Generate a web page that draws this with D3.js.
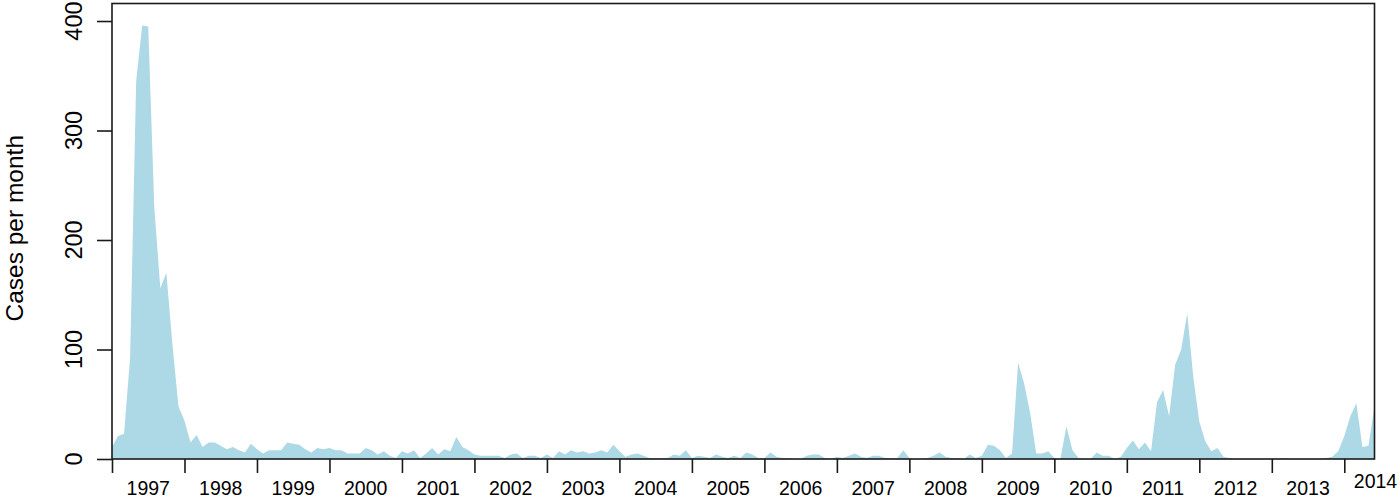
<!DOCTYPE html>
<html>
<head>
<meta charset="utf-8">
<script src="https://cdn.jsdelivr.net/npm/d3@7"></script>
<style>
  html, body { margin: 0; padding: 0; background: #fff; }
  svg { display: block; font-family: "Liberation Sans", Arial, Helvetica, sans-serif; }
</style>
</head>
<body>
<div id="chart"></div>
<script>
// ------------------------------------------------------
// DATA
// ------------------------------------------------------

var startYear = 1997;

// monthly cases, Jan 1997 .. Jun 2014 (one row per year)
var cases = [
  11, 21, 23, 93, 345, 396, 395, 230, 156, 170, 105, 48,
  35, 15, 22, 11, 15, 15, 12, 9, 11, 8, 6, 14,
  9, 5, 8, 8, 8, 15, 14, 13, 9, 6, 10, 9,
  10, 8, 8, 5, 5, 5, 10, 8, 4, 7, 3, 1,
  7, 5, 8, 1, 5, 10, 4, 9, 7, 20, 11, 8,
  4, 3, 3, 3, 3, 1, 4, 5, 1, 3, 3, 1,
  4, 1, 7, 4, 8, 6, 7, 5, 6, 8, 6, 13,
  7, 2, 4, 5, 3, 1, 1, 1, 1, 4, 3, 8,
  1, 3, 2, 1, 4, 2, 1, 3, 1, 6, 4, 1,
  1, 6, 2, 1, 1, 0, 0, 3, 4, 4, 1, 0,
  2, 1, 3, 5, 2, 1, 3, 3, 1, 1, 1, 8,
  1, 0, 0, 1, 3, 6, 2, 1, 1, 0, 4, 1,
  3, 13, 12, 8, 1, 5, 88, 69, 42, 5, 5, 7,
  1, 0, 30, 8, 1, 0, 0, 6, 3, 3, 0, 2,
  10, 17, 9, 15, 7, 52, 63, 39, 86, 100, 133, 75,
  34, 16, 7, 10, 2, 1, 0, 0, 0, 0, 0, 0,
  0, 0, 1, 0, 0, 0, 0, 0, 0, 1, 2, 7,
  21, 39, 51, 11, 12, 48
];

var yearLabels = ["1997", "1998", "1999", "2000", "2001", "2002", "2003", "2004", "2005",
  "2006", "2007", "2008", "2009", "2010", "2011", "2012", "2013", "2014"];
var yTicks = [0, 100, 200, 300, 400];
var yTitle = "Cases per month";

// ------------------------------------------------------
// LAYOUT
// ------------------------------------------------------

var width = 1400;
var height = 499;
var plot = { left: 112, right: 1374.5, top: 3.5, bottom: 459 };
var fill = "#add8e6";
var ink = "#1a1a1a";

var svg = d3.select("#chart").append("svg")
    .attr("width", width)
    .attr("height", height);

var x = d3.scaleLinear()
    .domain([0, cases.length - 1])
    .range([plot.left, plot.right]);

var y = d3.scaleLinear()
    .domain([0, 416])
    .range([plot.bottom, plot.top]);

// ------------------------------------------------------
// AREA
// ------------------------------------------------------

var area = d3.area()
    .x(function (d, i) { return x(i); })
    .y0(y(0))
    .y1(function (d) { return y(d); });

svg.append("path")
    .datum(cases)
    .attr("d", area)
    .attr("fill", fill)
    .attr("stroke", "none");

// ------------------------------------------------------
// AXES
// ------------------------------------------------------

// year ticks on January of each year, labels at mid-year
var yearTicks = yearLabels.map(function (d, i) { return i * 12; });

var xAxis = d3.axisBottom(x)
    .tickValues(yearTicks)
    .tickSize(14)
    .tickFormat("");

var gx = svg.append("g")
    .attr("transform", "translate(0," + plot.bottom + ")")
    .call(xAxis);
gx.select(".domain").remove();
gx.selectAll(".tick line").attr("stroke", ink).attr("stroke-width", 1.6);

svg.append("g").selectAll("text")
    .data(yearLabels)
    .join("text")
    .attr("x", function (d, i) {
      // last year only has a few months, label sits at the right edge
      return i === yearLabels.length - 1 ? x(cases.length - 1) + 1 : x(i * 12 + 6);
    })
    .attr("y", function (d, i) { return i === yearLabels.length - 1 ? 488 : 495; })
    .attr("text-anchor", "middle")
    .attr("font-size", "19.5px")
    .attr("fill", "#000")
    .text(function (d) { return d; });

var yAxis = d3.axisLeft(y)
    .tickValues(yTicks)
    .tickSize(15)
    .tickFormat("");

var gy = svg.append("g")
    .attr("transform", "translate(" + plot.left + ",0)")
    .call(yAxis);
gy.select(".domain").remove();
gy.selectAll(".tick line").attr("stroke", ink).attr("stroke-width", 1.6);

svg.append("g").selectAll("text")
    .data(yTicks)
    .join("text")
    .attr("transform", function (d) { return "translate(81.5," + y(d) + ") rotate(-90)"; })
    .attr("text-anchor", "middle")
    .attr("font-size", "23.5px")
    .attr("fill", "#000")
    .text(function (d) { return d; });

svg.append("text")
    .attr("transform", "translate(23," + ((plot.top + plot.bottom) / 2 - 3) + ") rotate(-90)")
    .attr("text-anchor", "middle")
    .attr("font-size", "24.5px")
    .attr("fill", "#000")
    .text(yTitle);

// box round the plot
svg.append("rect")
    .attr("x", plot.left)
    .attr("y", plot.top)
    .attr("width", plot.right - plot.left)
    .attr("height", plot.bottom - plot.top)
    .attr("fill", "none")
    .attr("stroke", ink)
    .attr("stroke-width", 1.6);
</script>
</body>
</html>
